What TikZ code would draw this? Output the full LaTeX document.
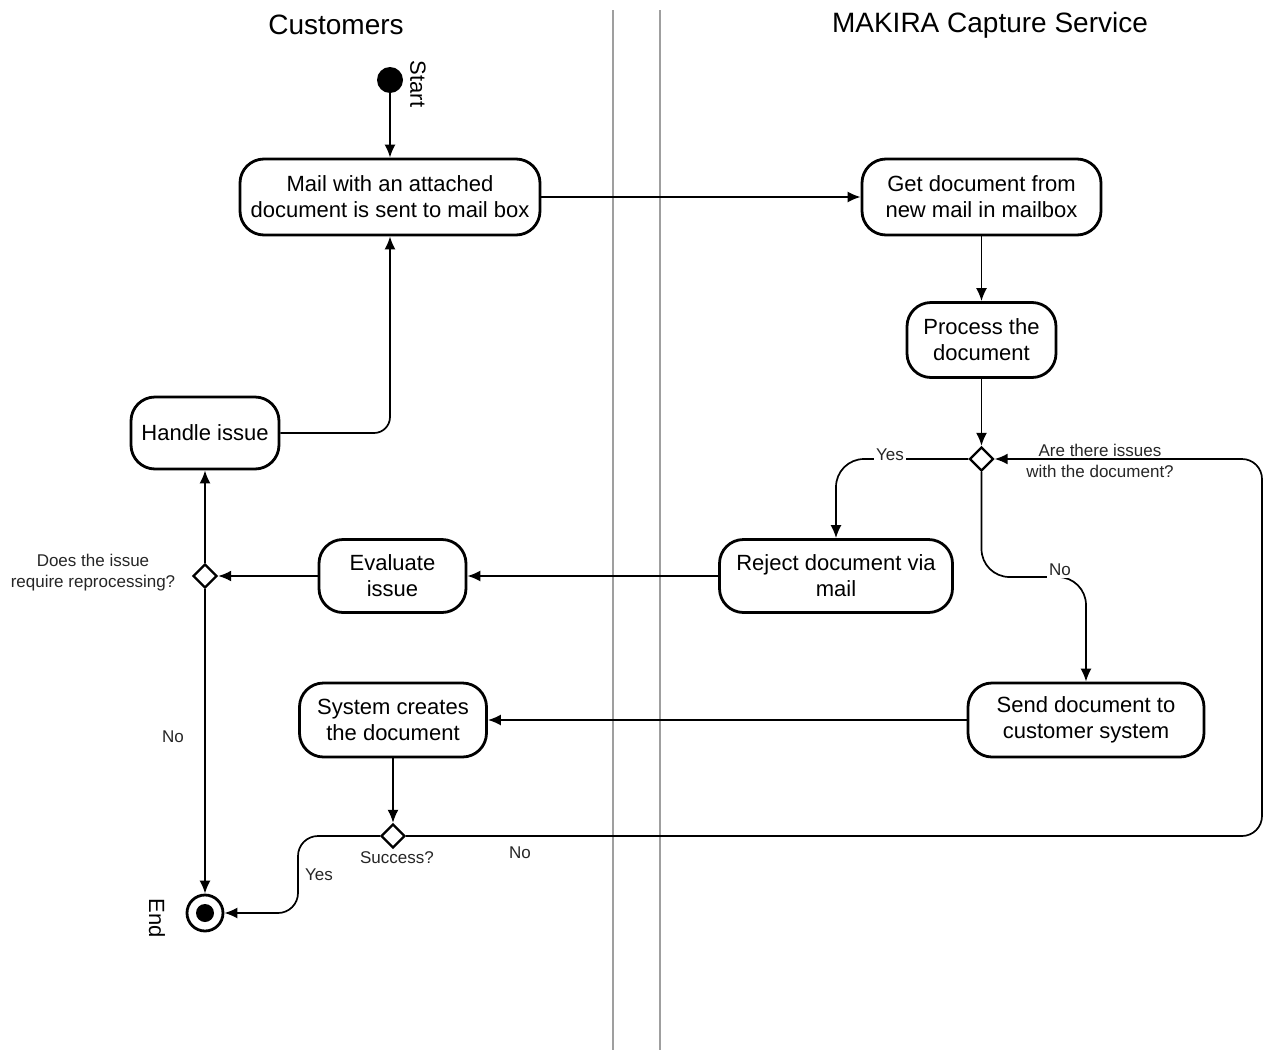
\documentclass[tikz,border=0pt]{standalone}
\usepackage{fontspec}
\setmainfont{Liberation Sans}
\usetikzlibrary{shapes.geometric,arrows.meta}
\begin{document}
\begin{tikzpicture}[x=0.5pt,y=-0.5pt,
 act/.style={draw,line width=1.4pt,rounded corners=12pt,align=center,inner sep=0pt,font=\fontsize{11}{13}\selectfont},
 dec/.style={draw,diamond,line width=1.2pt,minimum size=12pt,inner sep=0pt,fill=white},
 flow/.style={line width=0.85pt,-{Latex[length=6.5pt,width=5.5pt]}},
 lbl/.style={font=\fontsize{8.5}{10.5}\selectfont,align=center,text=black!85,inner sep=1pt},
 lane/.style={gray!75,line width=1.4pt},
 head/.style={font=\fontsize{14}{16}\selectfont}]
\useasboundingbox[fill=white] (0,0) rectangle (1264,1050);
% swimlane separators
\draw[lane] (613,10) -- (613,1050);
\draw[lane] (660,10) -- (660,1050);
\node[head] (h1) at (336,25) {Customers};
\node[head] (h2) at (990,25) {MAKIRA Capture Service};
% nodes
\node[circle,fill=black,minimum size=13pt,inner sep=0pt] (start) at (390,80) {};
\node[rotate=-90,font=\fontsize{11}{13}\selectfont] (startl) at (418,84) {Start};
\node[act,minimum width=150pt,minimum height=38pt] (mail) at (390,197) {Mail with an attached\\document is sent to mail box};
\node[act,minimum width=119.5pt,minimum height=38pt] (get) at (981.5,197) {Get document from\\new mail in mailbox};
\node[act,minimum width=74.5pt,minimum height=37.5pt] (proc) at (981.5,340) {Process the\\document};
\node[dec] (d1) at (981.5,459) {};
\node[act,minimum width=116.5pt,minimum height=36.5pt] (reject) at (836,576) {Reject document via\\mail};
\node[act,minimum width=73.5pt,minimum height=36.5pt] (eval) at (392.5,576) {Evaluate\\issue};
\node[dec] (d2) at (205,576) {};
\node[act,minimum width=74pt,minimum height=36pt] (handle) at (205,433) {Handle issue};
\node[act,minimum width=118pt,minimum height=37pt] (send) at (1086,720) {Send document to\\customer system};
\node[act,minimum width=93.5pt,minimum height=37pt] (sys) at (393,720) {System creates\\the document};
\node[dec] (d3) at (393,836) {};
\node[circle,draw,line width=1.4pt,minimum size=18pt,inner sep=0pt] (end) at (205,913) {};
\node[circle,fill=black,minimum size=9pt,inner sep=0pt] (endin) at (end) {};
\node[rotate=-90,font=\fontsize{11}{13}\selectfont] (endl) at (157,918) {End};
% flows
\draw[flow] (start) -- (mail);
\draw[flow] (mail) -- (get);
\draw[flow] (get) -- (proc);
\draw[flow] (proc) -- (d1);
\draw[flow,rounded corners=14pt] (d1.west) -| (reject.north);
\draw[flow,rounded corners=14pt] (d1.south) -- (981.5,577) -- (1086,577) -- (send.north);
\draw[flow] (reject) -- (eval);
\draw[flow] (eval) -- (d2);
\draw[flow] (d2) -- (handle);
\draw[flow] (d2) -- (end);
\draw[flow,rounded corners=8pt] (handle.east) -| (mail.south);
\draw[flow] (send) -- (sys);
\draw[flow] (sys) -- (d3);
\draw[flow,rounded corners=10pt] (d3.west) -- (298,836) -- (298,913) -- (end.east);
\draw[flow,rounded corners=10pt] (d3.east) -- (1262,836) -- (1262,459) -- (d1.east);
% labels
\node[lbl,fill=white] (yes1) at (890,455) {Yes};
\node[lbl,fill=white] (no1) at (1060,570) {No};
\node[lbl] (q1) at (1100,461) {Are there issues\\with the document?};
\node[lbl] (q2) at (93,573) {Does the issue\\require reprocessing?};
\node[lbl] (q3) at (397,858) {Success?};
\node[lbl] (no3) at (520,853) {No};
\node[lbl] (yes3) at (319,875) {Yes};
\node[lbl] (no2) at (173,737) {No};
\end{tikzpicture}
\end{document}
